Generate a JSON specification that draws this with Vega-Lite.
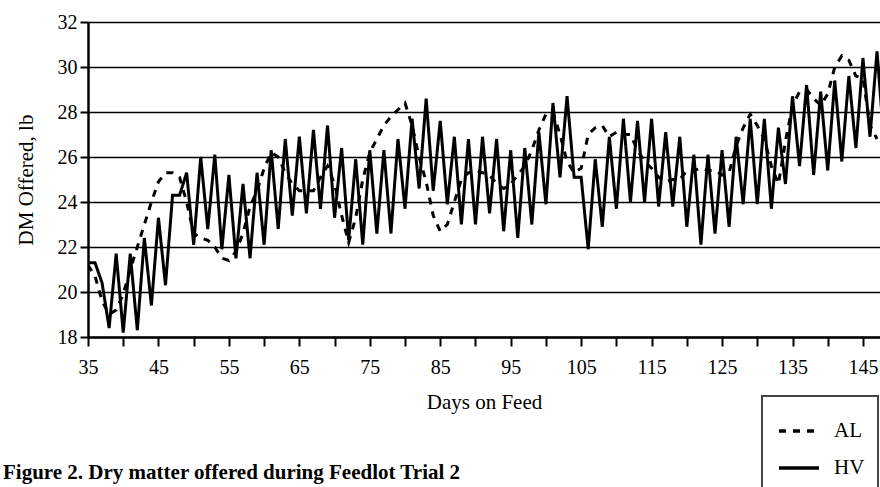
{
  "$schema": "https://vega.github.io/schema/vega-lite/v6.json",
  "width": 792,
  "height": 315,
  "autosize": {"type": "none"},
  "padding": {"left": 88, "top": 22, "right": 0, "bottom": 150},
  "background": "white",
  "title": {
    "text": "Figure 2. Dry matter offered during Feedlot Trial 2",
    "orient": "bottom",
    "anchor": "start",
    "frame": "group",
    "dx": -85,
    "dy": -30,
    "offset": 0,
    "font": "Liberation Serif, serif",
    "fontSize": 21,
    "fontWeight": "bold",
    "color": "black"
  },
  "data": {
    "values": [
      {"day":35,"series":"AL","value":21.2},{"day":36,"series":"AL","value":20.7},{"day":37,"series":"AL","value":19.6},{"day":38,"series":"AL","value":19.0},{"day":39,"series":"AL","value":19.2},{"day":40,"series":"AL","value":19.9},{"day":41,"series":"AL","value":21.0},{"day":42,"series":"AL","value":22.0},{"day":43,"series":"AL","value":23.0},{"day":44,"series":"AL","value":24.0},{"day":45,"series":"AL","value":24.9},{"day":46,"series":"AL","value":25.3},{"day":47,"series":"AL","value":25.3},{"day":48,"series":"AL","value":25.1},{"day":49,"series":"AL","value":24.0},{"day":50,"series":"AL","value":22.6},{"day":51,"series":"AL","value":22.4},{"day":52,"series":"AL","value":22.3},{"day":53,"series":"AL","value":22.0},{"day":54,"series":"AL","value":21.5},{"day":55,"series":"AL","value":21.4},{"day":56,"series":"AL","value":21.8},{"day":57,"series":"AL","value":22.6},{"day":58,"series":"AL","value":23.8},{"day":59,"series":"AL","value":24.5},{"day":60,"series":"AL","value":25.5},{"day":61,"series":"AL","value":26.2},{"day":62,"series":"AL","value":26.0},{"day":63,"series":"AL","value":25.3},{"day":64,"series":"AL","value":24.8},{"day":65,"series":"AL","value":24.5},{"day":66,"series":"AL","value":24.5},{"day":67,"series":"AL","value":24.5},{"day":68,"series":"AL","value":25.1},{"day":69,"series":"AL","value":25.6},{"day":70,"series":"AL","value":24.8},{"day":71,"series":"AL","value":23.4},{"day":72,"series":"AL","value":22.2},{"day":73,"series":"AL","value":23.3},{"day":74,"series":"AL","value":25.0},{"day":75,"series":"AL","value":26.2},{"day":76,"series":"AL","value":26.8},{"day":77,"series":"AL","value":27.4},{"day":78,"series":"AL","value":27.8},{"day":79,"series":"AL","value":28.1},{"day":80,"series":"AL","value":28.4},{"day":81,"series":"AL","value":27.4},{"day":82,"series":"AL","value":26.0},{"day":83,"series":"AL","value":24.9},{"day":84,"series":"AL","value":23.4},{"day":85,"series":"AL","value":22.7},{"day":86,"series":"AL","value":23.0},{"day":87,"series":"AL","value":24.0},{"day":88,"series":"AL","value":25.0},{"day":89,"series":"AL","value":25.3},{"day":90,"series":"AL","value":25.4},{"day":91,"series":"AL","value":25.3},{"day":92,"series":"AL","value":25.2},{"day":93,"series":"AL","value":24.8},{"day":94,"series":"AL","value":24.6},{"day":95,"series":"AL","value":24.8},{"day":96,"series":"AL","value":25.2},{"day":97,"series":"AL","value":25.6},{"day":98,"series":"AL","value":26.3},{"day":99,"series":"AL","value":27.2},{"day":100,"series":"AL","value":27.9},{"day":101,"series":"AL","value":28.0},{"day":102,"series":"AL","value":27.0},{"day":103,"series":"AL","value":25.8},{"day":104,"series":"AL","value":25.3},{"day":105,"series":"AL","value":25.5},{"day":106,"series":"AL","value":27.0},{"day":107,"series":"AL","value":27.3},{"day":108,"series":"AL","value":27.4},{"day":109,"series":"AL","value":26.9},{"day":110,"series":"AL","value":27.1},{"day":111,"series":"AL","value":27.0},{"day":112,"series":"AL","value":27.0},{"day":113,"series":"AL","value":26.3},{"day":114,"series":"AL","value":25.8},{"day":115,"series":"AL","value":25.5},{"day":116,"series":"AL","value":25.1},{"day":117,"series":"AL","value":24.9},{"day":118,"series":"AL","value":25.0},{"day":119,"series":"AL","value":25.0},{"day":120,"series":"AL","value":25.4},{"day":121,"series":"AL","value":25.4},{"day":122,"series":"AL","value":25.5},{"day":123,"series":"AL","value":25.4},{"day":124,"series":"AL","value":25.4},{"day":125,"series":"AL","value":25.2},{"day":126,"series":"AL","value":25.3},{"day":127,"series":"AL","value":26.5},{"day":128,"series":"AL","value":27.3},{"day":129,"series":"AL","value":27.9},{"day":130,"series":"AL","value":27.4},{"day":131,"series":"AL","value":26.8},{"day":132,"series":"AL","value":25.6},{"day":133,"series":"AL","value":24.8},{"day":134,"series":"AL","value":26.7},{"day":135,"series":"AL","value":28.3},{"day":136,"series":"AL","value":28.9},{"day":137,"series":"AL","value":29.0},{"day":138,"series":"AL","value":28.6},{"day":139,"series":"AL","value":28.3},{"day":140,"series":"AL","value":28.8},{"day":141,"series":"AL","value":30.0},{"day":142,"series":"AL","value":30.5},{"day":143,"series":"AL","value":30.3},{"day":144,"series":"AL","value":29.6},{"day":145,"series":"AL","value":29.5},{"day":146,"series":"AL","value":27.4},{"day":147,"series":"AL","value":26.8},
      {"day":35,"series":"HV","value":21.3},{"day":36,"series":"HV","value":21.3},{"day":37,"series":"HV","value":20.4},{"day":38,"series":"HV","value":18.4},{"day":39,"series":"HV","value":21.7},{"day":40,"series":"HV","value":18.2},{"day":41,"series":"HV","value":21.7},{"day":42,"series":"HV","value":18.3},{"day":43,"series":"HV","value":22.4},{"day":44,"series":"HV","value":19.4},{"day":45,"series":"HV","value":23.3},{"day":46,"series":"HV","value":20.3},{"day":47,"series":"HV","value":24.3},{"day":48,"series":"HV","value":24.3},{"day":49,"series":"HV","value":25.3},{"day":50,"series":"HV","value":22.1},{"day":51,"series":"HV","value":26.0},{"day":52,"series":"HV","value":22.8},{"day":53,"series":"HV","value":26.1},{"day":54,"series":"HV","value":21.9},{"day":55,"series":"HV","value":25.2},{"day":56,"series":"HV","value":21.5},{"day":57,"series":"HV","value":24.8},{"day":58,"series":"HV","value":21.5},{"day":59,"series":"HV","value":25.3},{"day":60,"series":"HV","value":22.1},{"day":61,"series":"HV","value":26.3},{"day":62,"series":"HV","value":22.8},{"day":63,"series":"HV","value":26.8},{"day":64,"series":"HV","value":23.4},{"day":65,"series":"HV","value":26.9},{"day":66,"series":"HV","value":23.5},{"day":67,"series":"HV","value":27.2},{"day":68,"series":"HV","value":23.7},{"day":69,"series":"HV","value":27.4},{"day":70,"series":"HV","value":23.3},{"day":71,"series":"HV","value":26.4},{"day":72,"series":"HV","value":22.3},{"day":73,"series":"HV","value":25.9},{"day":74,"series":"HV","value":22.1},{"day":75,"series":"HV","value":26.3},{"day":76,"series":"HV","value":22.6},{"day":77,"series":"HV","value":26.3},{"day":78,"series":"HV","value":22.6},{"day":79,"series":"HV","value":26.8},{"day":80,"series":"HV","value":23.7},{"day":81,"series":"HV","value":27.7},{"day":82,"series":"HV","value":24.6},{"day":83,"series":"HV","value":28.6},{"day":84,"series":"HV","value":24.5},{"day":85,"series":"HV","value":27.6},{"day":86,"series":"HV","value":23.9},{"day":87,"series":"HV","value":26.9},{"day":88,"series":"HV","value":23.0},{"day":89,"series":"HV","value":26.8},{"day":90,"series":"HV","value":23.0},{"day":91,"series":"HV","value":26.9},{"day":92,"series":"HV","value":23.5},{"day":93,"series":"HV","value":26.8},{"day":94,"series":"HV","value":22.7},{"day":95,"series":"HV","value":26.3},{"day":96,"series":"HV","value":22.4},{"day":97,"series":"HV","value":26.4},{"day":98,"series":"HV","value":23.0},{"day":99,"series":"HV","value":27.1},{"day":100,"series":"HV","value":23.9},{"day":101,"series":"HV","value":28.4},{"day":102,"series":"HV","value":25.1},{"day":103,"series":"HV","value":28.7},{"day":104,"series":"HV","value":25.1},{"day":105,"series":"HV","value":25.1},{"day":106,"series":"HV","value":21.9},{"day":107,"series":"HV","value":25.9},{"day":108,"series":"HV","value":22.9},{"day":109,"series":"HV","value":26.9},{"day":110,"series":"HV","value":23.7},{"day":111,"series":"HV","value":27.7},{"day":112,"series":"HV","value":24.0},{"day":113,"series":"HV","value":27.6},{"day":114,"series":"HV","value":24.0},{"day":115,"series":"HV","value":27.7},{"day":116,"series":"HV","value":23.8},{"day":117,"series":"HV","value":27.1},{"day":118,"series":"HV","value":23.8},{"day":119,"series":"HV","value":26.9},{"day":120,"series":"HV","value":22.9},{"day":121,"series":"HV","value":26.1},{"day":122,"series":"HV","value":22.1},{"day":123,"series":"HV","value":26.1},{"day":124,"series":"HV","value":22.6},{"day":125,"series":"HV","value":26.3},{"day":126,"series":"HV","value":22.9},{"day":127,"series":"HV","value":26.9},{"day":128,"series":"HV","value":23.9},{"day":129,"series":"HV","value":27.7},{"day":130,"series":"HV","value":23.9},{"day":131,"series":"HV","value":27.7},{"day":132,"series":"HV","value":23.7},{"day":133,"series":"HV","value":27.3},{"day":134,"series":"HV","value":24.8},{"day":135,"series":"HV","value":28.7},{"day":136,"series":"HV","value":25.6},{"day":137,"series":"HV","value":29.2},{"day":138,"series":"HV","value":25.2},{"day":139,"series":"HV","value":28.9},{"day":140,"series":"HV","value":25.4},{"day":141,"series":"HV","value":29.4},{"day":142,"series":"HV","value":25.8},{"day":143,"series":"HV","value":29.6},{"day":144,"series":"HV","value":26.4},{"day":145,"series":"HV","value":30.4},{"day":146,"series":"HV","value":26.9},{"day":147,"series":"HV","value":30.7},{"day":148,"series":"HV","value":26.6}
    ]
  },
  "mark": {"type": "line", "clip": true, "color": "black", "strokeWidth": 3, "strokeJoin": "miter", "strokeMiterLimit": 4},
  "encoding": {
    "x": {
      "field": "day",
      "type": "quantitative",
      "scale": {"domain": [35, 147.42], "nice": false, "zero": false},
      "axis": {
        "title": "Days on Feed",
        "values": [35,40,45,50,55,60,65,70,75,80,85,90,95,100,105,110,115,120,125,130,135,140,145],
        "labelExpr": "(datum.value - 35) % 10 == 0 ? datum.label : ''",
        "grid": false,
        "tickSize": 9,
        "labelPadding": 11,
        "titlePadding": 14
      }
    },
    "y": {
      "field": "value",
      "type": "quantitative",
      "scale": {"domain": [18, 32], "nice": false, "zero": false},
      "axis": {
        "title": "DM Offered, lb",
        "values": [18,20,22,24,26,28,30,32],
        "grid": true,
        "tickSize": 8,
        "labelPadding": 3,
        "titlePadding": 21
      }
    },
    "strokeDash": {
      "field": "series",
      "type": "nominal",
      "scale": {"domain": ["AL", "HV"], "range": [[7, 7], [1, 0]]},
      "legend": {
        "title": null,
        "orient": "none",
        "legendX": 674,
        "legendY": 374,
        "direction": "vertical",
        "symbolType": "stroke",
        "symbolSize": 1600,
        "symbolStrokeWidth": 3.5,
        "symbolStrokeColor": "black",
        "symbolOffset": 2,
        "labelOffset": 13,
        "rowPadding": 5,
        "padding": 13,
        "strokeColor": "#444",
        "fillColor": "white",
        "cornerRadius": 0,
        "labelFont": "Liberation Serif, serif",
        "labelFontSize": 21,
        "labelColor": "black",
        "labelExpr": "datum.label + '\u00a0\u00a0\u00a0\u00a0\u00a0\u00a0\u00a0\u00a0\u00a0\u00a0\u00a0\u00a0'"
      }
    }
  },
  "config": {
    "view": {"stroke": null},
    "legend": {"strokeWidth": 2},
    "axis": {
      "domainColor": "black",
      "domainWidth": 2.5,
      "tickColor": "black",
      "tickWidth": 2,
      "gridColor": "black",
      "gridWidth": 1.5,
      "gridOpacity": 1,
      "labelFont": "Liberation Serif, serif",
      "labelFontSize": 20,
      "labelColor": "black",
      "titleFont": "Liberation Serif, serif",
      "titleFontSize": 21,
      "titleFontWeight": "normal",
      "titleColor": "black",
      "labelFlush": false,
      "labelOverlap": false
    }
  }
}
